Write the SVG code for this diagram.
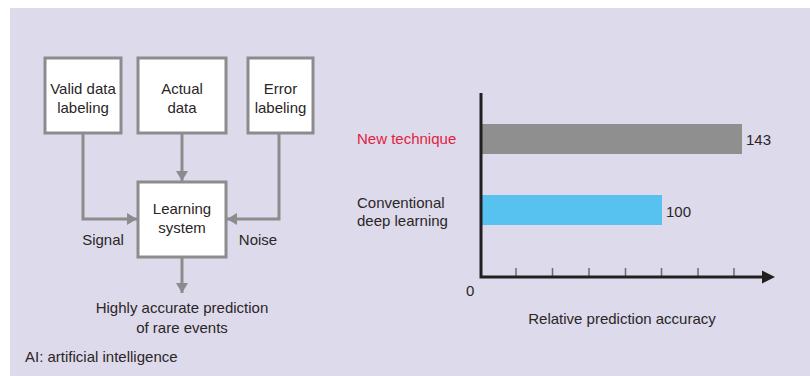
<svg xmlns="http://www.w3.org/2000/svg" width="810" height="376" viewBox="0 0 810 376">
<defs>
<style>
text{font-family:"Liberation Sans",Arial,sans-serif;font-size:15px;fill:#2b2626}
.box{fill:#ffffff;stroke:#8c8c8c;stroke-width:3}
.conn{fill:none;stroke:#8c8c8c;stroke-width:3}
.mid{text-anchor:middle}
.axis{fill:none;stroke:#231f20;stroke-width:3}
.tick{stroke:#6e6a6a;stroke-width:1.5}
</style>
<marker id="ah" viewBox="0 0 10 12" refX="10" refY="6" markerUnits="userSpaceOnUse" markerWidth="11" markerHeight="12" orient="auto">
<path d="M0,0 L10,6 L0,12 Z" fill="#8c8c8c"/>
</marker>
<marker id="axh" viewBox="0 0 12 12" refX="12" refY="6" markerUnits="userSpaceOnUse" markerWidth="12" markerHeight="13" orient="auto">
<path d="M0,0 L12,6 L0,12 Z" fill="#231f20"/>
</marker>
</defs>
<rect x="10" y="8" width="800" height="368" fill="#dddaec"/>

<g id="connectors">
<path class="conn" d="M83,133 V219 H137" marker-end="url(#ah)"/>
<path class="conn" d="M182,133 V181" marker-end="url(#ah)"/>
<path class="conn" d="M279,133 V219 H227" marker-end="url(#ah)"/>
<path class="conn" d="M182,257 V293" marker-end="url(#ah)"/>
</g>

<g id="valid">
<rect class="box" x="45" y="58" width="76" height="75"/>
<text class="mid" x="83" y="94">Valid data</text>
<text class="mid" x="83" y="113">labeling</text>
</g>
<g id="actual">
<rect class="box" x="138" y="58" width="88" height="75"/>
<text class="mid" x="182" y="94">Actual</text>
<text class="mid" x="182" y="113">data</text>
</g>
<g id="error">
<rect class="box" x="248" y="58" width="65" height="75"/>
<text class="mid" x="280.5" y="94">Error</text>
<text class="mid" x="280.5" y="113">labeling</text>
</g>
<g id="learning">
<rect class="box" x="138" y="182" width="88" height="75"/>
<text class="mid" x="182" y="214">Learning</text>
<text class="mid" x="182" y="233">system</text>
</g>
<g id="labels">
<text class="mid" x="103" y="245">Signal</text>
<text class="mid" x="258" y="245">Noise</text>
<text class="mid" x="182" y="313">Highly accurate prediction</text>
<text class="mid" x="182" y="333">of rare events</text>
<text x="25" y="362">AI: artificial intelligence</text>
</g>

<g id="chart">
<rect x="481" y="124" width="261" height="30" fill="#8f8f8f"/>
<rect x="481" y="195" width="181" height="30" fill="#57c1ef"/>
<g class="tick">
<line x1="516" y1="268" x2="516" y2="277"/>
<line x1="552.5" y1="268" x2="552.5" y2="277"/>
<line x1="589" y1="268" x2="589" y2="277"/>
<line x1="625.5" y1="268" x2="625.5" y2="277"/>
<line x1="661.5" y1="268" x2="661.5" y2="277"/>
<line x1="698" y1="268" x2="698" y2="277"/>
<line x1="734" y1="268" x2="734" y2="277"/>
</g>
<path class="axis" d="M481,93 V277 H764"/>
<path d="M762,270.5 L775,277 L762,283.5 Z" fill="#231f20"/>
<text x="357" y="144" style="fill:#e2223e">New technique</text>
<text x="357" y="208">Conventional</text>
<text x="357" y="226">deep learning</text>
<text x="746" y="145">143</text>
<text x="666" y="217">100</text>
<text x="466" y="296">0</text>
<text class="mid" x="622" y="324">Relative prediction accuracy</text>
</g>
</svg>
